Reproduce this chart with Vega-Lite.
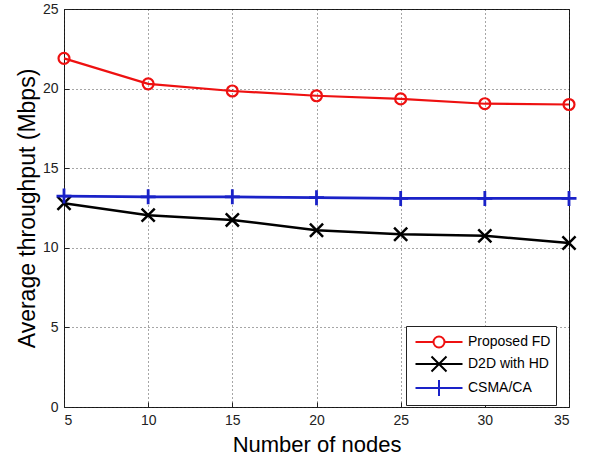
{
  "$schema": "https://vega.github.io/schema/vega-lite/v6.json",
  "width": 505,
  "height": 398,
  "autosize": "none",
  "padding": {"left": 64, "top": 9, "right": 21, "bottom": 52},
  "background": "white",
  "config": {
    "font": "Liberation Sans",
    "view": {"stroke": "#222", "strokeWidth": 1},
    "axis": {
      "grid": true,
      "gridColor": "#000",
      "gridDash": [1, 3],
      "gridOpacity": 0.7,
      "gridWidth": 1,
      "domain": false,
      "ticks": true,
      "tickSize": -5,
      "tickColor": "#222",
      "labelFont": "Liberation Sans",
      "labelFontSize": 14,
      "labelColor": "#222",
      "titleFont": "Liberation Sans",
      "titleFontWeight": "normal",
      "titleColor": "#000"
    },
    "legend": {
      "orient": "none",
      "legendX": 342,
      "legendY": 317,
      "direction": "vertical",
      "strokeColor": "#222",
      "fillColor": "white",
      "padding": 5,
      "rowPadding": 0,
      "symbolSize": 400,
      "symbolStrokeWidth": 2,
      "symbolOpacity": 1,
      "symbolOffset": 17,
      "labelOffset": 18,
      "labelFontSize": 14,
      "labelColor": "#000",
      "labelFont": "Liberation Sans"
    }
  },
  "data": {
    "values": [
      {"nodes": 5, "series": "Proposed FD", "thr": 21.9},
      {"nodes": 10, "series": "Proposed FD", "thr": 20.3},
      {"nodes": 15, "series": "Proposed FD", "thr": 19.85},
      {"nodes": 20, "series": "Proposed FD", "thr": 19.55},
      {"nodes": 25, "series": "Proposed FD", "thr": 19.35},
      {"nodes": 30, "series": "Proposed FD", "thr": 19.05},
      {"nodes": 35, "series": "Proposed FD", "thr": 19.0},
      {"nodes": 5, "series": "D2D with HD", "thr": 12.8},
      {"nodes": 10, "series": "D2D with HD", "thr": 12.05},
      {"nodes": 15, "series": "D2D with HD", "thr": 11.75},
      {"nodes": 20, "series": "D2D with HD", "thr": 11.1},
      {"nodes": 25, "series": "D2D with HD", "thr": 10.85},
      {"nodes": 30, "series": "D2D with HD", "thr": 10.75},
      {"nodes": 35, "series": "D2D with HD", "thr": 10.3},
      {"nodes": 5, "series": "CSMA/CA", "thr": 13.25},
      {"nodes": 10, "series": "CSMA/CA", "thr": 13.2},
      {"nodes": 15, "series": "CSMA/CA", "thr": 13.2},
      {"nodes": 20, "series": "CSMA/CA", "thr": 13.15},
      {"nodes": 25, "series": "CSMA/CA", "thr": 13.1},
      {"nodes": 30, "series": "CSMA/CA", "thr": 13.1},
      {"nodes": 35, "series": "CSMA/CA", "thr": 13.1}
    ]
  },
  "encoding": {
    "x": {
      "field": "nodes", "type": "quantitative",
      "scale": {"domain": [5, 35], "nice": false, "zero": false},
      "axis": {"values": [5, 10, 15, 20, 25, 30, 35], "title": "Number of nodes", "titleFontSize": 22, "labelPadding": 11, "titlePadding": 7}
    },
    "y": {
      "field": "thr", "type": "quantitative",
      "scale": {"domain": [0, 25], "nice": false},
      "axis": {"values": [0, 5, 10, 15, 20, 25], "title": "Average throughput (Mbps)", "titleFontSize": 23, "labelPadding": 11, "titlePadding": 3}
    }
  },
  "layer": [
    {
      "mark": {"type": "line"},
      "encoding": {
        "strokeWidth": {
          "field": "series", "type": "nominal", "legend": null,
          "scale": {"domain": ["Proposed FD", "D2D with HD", "CSMA/CA"], "range": [2.2, 2.8, 2.5]}
        },
        "color": {
          "field": "series", "type": "nominal", "legend": null,
          "scale": {"domain": ["Proposed FD", "D2D with HD", "CSMA/CA"], "range": ["#ee1111", "#000000", "#1a22c8"]}
        }
      }
    },
    {
      "mark": {"type": "point", "filled": false, "opacity": 1},
      "encoding": {
        "shape": {
          "field": "series", "type": "nominal", "legend": null,
          "scale": {"domain": ["Proposed FD", "D2D with HD", "CSMA/CA"], "range": ["circle", "M-1,-1L1,1M-1,1L1,-1", "M0,-1V1M-1,0H1"]}
        },
        "size": {
          "field": "series", "type": "nominal", "legend": null,
          "scale": {"domain": ["Proposed FD", "D2D with HD", "CSMA/CA"], "range": [120, 225, 676]}
        },
        "strokeWidth": {
          "field": "series", "type": "nominal", "legend": null,
          "scale": {"domain": ["Proposed FD", "D2D with HD", "CSMA/CA"], "range": [1.6, 2.5, 2.5]}
        },
        "color": {
          "field": "series", "type": "nominal", "legend": null,
          "scale": {"domain": ["Proposed FD", "D2D with HD", "CSMA/CA"], "range": ["#ee1111", "#000000", "#1a22c8"]}
        }
      }
    },
    {
      "mark": {"type": "point", "filled": false, "opacity": 0},
      "encoding": {
        "shape": {
          "field": "series", "type": "nominal",
          "scale": {"domain": ["Proposed FD", "D2D with HD", "CSMA/CA"], "range": [
            "M-2.35,0H-0.55M0.55,0H2.35M-0.55,0A0.55,0.55 0 1,1 0.55,0A0.55,0.55 0 1,1 -0.55,0",
            "M-2.35,0H2.35M-0.75,-0.75L0.75,0.75M-0.75,0.75L0.75,-0.75",
            "M-2.35,0H2.35M0,-0.8V0.8"
          ]},
          "legend": {"title": null}
        },
        "color": {
          "field": "series", "type": "nominal",
          "scale": {"domain": ["Proposed FD", "D2D with HD", "CSMA/CA"], "range": ["#ee1111", "#000000", "#1a22c8"]},
          "legend": {"title": null}
        }
      }
    }
  ],
  "resolve": {"scale": {"shape": "independent", "color": "independent"}}
}
